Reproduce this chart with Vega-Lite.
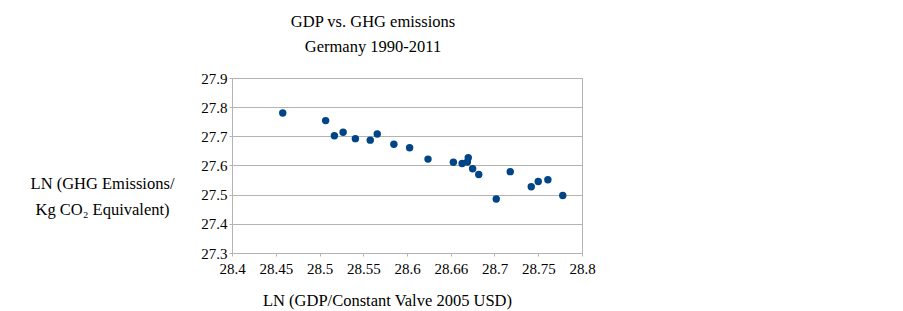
{
  "$schema": "https://vega.github.io/schema/vega-lite/v6.json",
  "autosize": "none",
  "width": 350,
  "height": 175,
  "padding": {"left": 232, "top": 78, "right": 321, "bottom": 58},
  "background": "white",
  "title": {
    "text": ["GDP vs. GHG emissions", "Germany 1990-2011"],
    "anchor": "middle",
    "frame": "group",
    "dx": -34,
    "offset": 3,
    "baseline": "alphabetic",
    "lineHeight": 25,
    "font": "Liberation Serif",
    "fontSize": 16.5,
    "fontWeight": "normal",
    "color": "black"
  },
  "config": {
    "view": {"stroke": "#b3b3b3", "strokeWidth": 1},
    "axis": {
      "labelFont": "Liberation Serif",
      "labelFontSize": 15,
      "labelColor": "black",
      "titleFont": "Liberation Serif",
      "titleFontSize": 16.5,
      "titleFontWeight": "normal",
      "titleColor": "black",
      "domainColor": "#b3b3b3",
      "tickColor": "#b3b3b3",
      "gridColor": "#b3b3b3",
      "tickSize": 3
    }
  },
  "data": {
    "values": [
      {"year": 1990, "gdp": 28.458, "ghg": 27.780},
      {"year": 1991, "gdp": 28.507, "ghg": 27.754},
      {"year": 1992, "gdp": 28.517, "ghg": 27.702},
      {"year": 1993, "gdp": 28.527, "ghg": 27.714},
      {"year": 1994, "gdp": 28.541, "ghg": 27.692},
      {"year": 1995, "gdp": 28.558, "ghg": 27.687},
      {"year": 1996, "gdp": 28.566, "ghg": 27.708},
      {"year": 1997, "gdp": 28.585, "ghg": 27.673},
      {"year": 1998, "gdp": 28.603, "ghg": 27.661},
      {"year": 1999, "gdp": 28.624, "ghg": 27.622},
      {"year": 2000, "gdp": 28.653, "ghg": 27.611},
      {"year": 2001, "gdp": 28.663, "ghg": 27.607},
      {"year": 2002, "gdp": 28.670, "ghg": 27.627},
      {"year": 2003, "gdp": 28.669, "ghg": 27.612},
      {"year": 2004, "gdp": 28.675, "ghg": 27.589},
      {"year": 2005, "gdp": 28.682, "ghg": 27.569},
      {"year": 2006, "gdp": 28.702, "ghg": 27.485},
      {"year": 2007, "gdp": 28.718, "ghg": 27.579},
      {"year": 2008, "gdp": 28.742, "ghg": 27.527},
      {"year": 2009, "gdp": 28.750, "ghg": 27.545},
      {"year": 2010, "gdp": 28.761, "ghg": 27.551},
      {"year": 2011, "gdp": 28.778, "ghg": 27.497}
    ]
  },
  "mark": {"type": "circle", "size": 55, "color": "#004586", "opacity": 1},
  "encoding": {
    "x": {
      "field": "gdp",
      "type": "quantitative",
      "scale": {"domain": [28.4, 28.8], "nice": false, "zero": false},
      "axis": {
        "title": "LN (GDP/Constant Valve 2005 USD)",
        "values": [28.4, 28.45, 28.5, 28.55, 28.6, 28.65, 28.7, 28.75, 28.8],
        "labelExpr": "abs(datum.value - 28.65) < 0.001 ? '28.66' : format(datum.value, '~g')",
        "labelFont": "Liberation Serif",
        "labelFontSize": 15,
        "labelColor": "black",
        "labelOverlap": false,
        "labelFlush": false,
        "grid": false,
        "labelPadding": 5,
        "titleX": 155,
        "titleY": 47,
        "titleAlign": "center",
        "titleBaseline": "middle"
      }
    },
    "y": {
      "field": "ghg",
      "type": "quantitative",
      "scale": {"domain": [27.3, 27.9], "nice": false, "zero": false},
      "axis": {
        "title": ["LN (GHG Emissions/", "Kg CO₂ Equivalent)"],
        "values": [27.3, 27.4, 27.5, 27.6, 27.7, 27.8, 27.9],
        "labelExpr": "format(datum.value, '~g')",
        "labelFont": "Liberation Serif",
        "labelFontSize": 15,
        "labelColor": "black",
        "labelOverlap": false,
        "labelFlush": false,
        "grid": true,
        "labelPadding": 2,
        "titleAngle": 0,
        "titleX": -130,
        "titleY": 105.5,
        "titleAlign": "center",
        "titleBaseline": "middle",
        "titleLineHeight": 25.7
      }
    }
  }
}
